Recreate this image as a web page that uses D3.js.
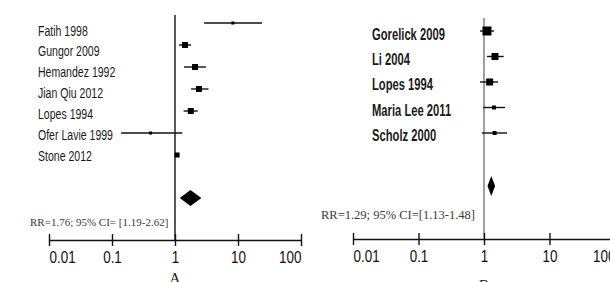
<!DOCTYPE html>
<html>
<head>
<meta charset="utf-8">
<script src="https://cdn.jsdelivr.net/npm/d3@7"></script>
<style>
  body { margin: 0; background: #fff; }
  svg { display: block; }
  .study { font-family: "Liberation Sans", Arial, sans-serif; fill: #1a1a1a; }
  .axis text { font-family: "Liberation Sans", Arial, sans-serif; font-size: 16px; fill: #111; }
  .summary { font-family: "Liberation Serif", "Times New Roman", serif; fill: #3a3a3a; }
  .panel-label { font-family: "Liberation Serif", "Times New Roman", serif; font-size: 15px; fill: #222; }
</style>
</head>
<body>
<svg id="chart" width="610" height="282"></svg>
<script>
// panel A studies
const studiesA = ["Fatih 1998", "Gungor 2009", "Hemandez 1992", "Jian Qiu 2012", "Lopes 1994", "Ofer Lavie 1999", "Stone 2012"];
const rrA = [8.3, 1.44, 2.08, 2.4, 1.78, 0.41, 1.08];
const lowA = [2.9, 1.16, 1.39, 1.8, 1.37, 0.14, 1.04];
const highA = [24, 1.8, 3.1, 3.4, 2.3, 1.3, 1.12];
const weightA = [3, 6, 6, 6, 6, 3, 5];
const pooledA = { rr: 1.76, low: 1.19, high: 2.62, text: "RR=1.76; 95% CI= [1.19-2.62]" };

// panel B studies
const studiesB = ["Gorelick 2009", "Li 2004", "Lopes 1994", "Maria Lee 2011", "Scholz 2000"];
const rrB = [1.11, 1.47, 1.22, 1.42, 1.45];
const lowB = [0.87, 1.11, 0.87, 0.97, 0.93];
const highB = [1.42, 2.0, 1.64, 2.09, 2.25];
const weightB = [9, 7, 7, 4, 4];
const pooledB = { rr: 1.29, low: 1.13, high: 1.48, text: "RR=1.29; 95% CI=[1.13-1.48]" };

const tickValues = [0.01, 0.1, 1, 10, 100];
const tickLabels = ["0.01", "0.1", "1", "10", "100"];

const svg = d3.select("#chart");

// no condensed font installed, so the sans text is squeezed horizontally
function drawPanel(cfg) {
  const g = svg.append("g");
  const n = cfg.studies.length;

  const x = d3.scaleLog().domain([0.01, 100]).range(cfg.xRange);
  const yMark = d3.scalePoint().domain(d3.range(n)).range(cfg.markRange);
  const yText = d3.scalePoint().domain(d3.range(n)).range(cfg.textRange);

  // line of no effect
  g.append("line")
    .attr("x1", x(1)).attr("x2", x(1))
    .attr("y1", cfg.refTop).attr("y2", cfg.axisY)
    .attr("stroke", cfg.refColor).attr("stroke-width", cfg.refWidth);

  // study labels
  g.selectAll(".study")
    .data(cfg.studies)
    .join("text")
    .attr("class", "study")
    .attr("transform", (d, i) => "translate(" + cfg.labelX + "," + yText(i) + ") scale(" + cfg.labelSqueeze + ",1)")
    .attr("dy", "0.36em")
    .style("font-size", cfg.labelSize + "px")
    .style("font-weight", cfg.labelWeight)
    .text(d => d);

  // confidence intervals
  g.selectAll(".ci")
    .data(d3.range(n))
    .join("line")
    .attr("class", "ci")
    .attr("x1", i => x(cfg.low[i]))
    .attr("x2", i => x(cfg.high[i]))
    .attr("y1", i => yMark(i))
    .attr("y2", i => yMark(i))
    .attr("stroke", "#111")
    .attr("stroke-width", 1.4);

  // point estimates
  g.selectAll(".pt")
    .data(d3.range(n))
    .join("rect")
    .attr("class", "pt")
    .attr("x", i => x(cfg.rr[i]) - cfg.weight[i] / 2)
    .attr("y", i => yMark(i) - cfg.weight[i] / 2)
    .attr("width", i => cfg.weight[i])
    .attr("height", i => cfg.weight[i])
    .attr("fill", "#000");

  // pooled diamond
  const p = cfg.pooled;
  g.append("path")
    .attr("d", d3.line()([
      [x(p.low), cfg.diamondY],
      [x(p.rr), cfg.diamondY - cfg.diamondH],
      [x(p.high), cfg.diamondY],
      [x(p.rr), cfg.diamondY + cfg.diamondH]
    ]) + "Z")
    .attr("fill", "#000");

  g.append("text")
    .attr("class", "summary")
    .attr("x", cfg.summaryX)
    .attr("y", cfg.summaryY)
    .style("font-size", cfg.summarySize + "px")
    .text(p.text);

  // axis, ticks run both sides of the line
  const axis = g.append("g")
    .attr("class", "axis")
    .attr("transform", "translate(0," + cfg.axisY + ")")
    .call(d3.axisBottom(x)
      .tickValues(tickValues)
      .tickFormat((d, i) => tickLabels[i])
      .tickSizeOuter(0));
  axis.select(".domain").attr("stroke", "#111").attr("stroke-width", 1.4);
  axis.selectAll(".tick line").attr("y1", -6).attr("y2", 6).attr("stroke", "#111").attr("stroke-width", 1.4);
  axis.selectAll(".tick text")
    .attr("y", null).attr("dy", null)
    .attr("transform", "translate(0,23) scale(0.84,1)")
    .attr("text-anchor", (d, i) => i === 0 ? "start" : i === tickValues.length - 1 ? "end" : "middle");

  g.append("text")
    .attr("class", "panel-label")
    .attr("x", x(1))
    .attr("y", cfg.panelY)
    .attr("text-anchor", "middle")
    .text(cfg.panel);
}

drawPanel({
  studies: studiesA, rr: rrA, low: lowA, high: highA, weight: weightA, pooled: pooledA,
  xRange: [49, 301], markRange: [23, 155], textRange: [30, 155],
  labelX: 38, labelSize: 15.5, labelSqueeze: 0.68, labelWeight: 400,
  refTop: 15, refColor: "#111", refWidth: 1.4,
  axisY: 240, diamondY: 198, diamondH: 8,
  summaryX: 30, summaryY: 226, summarySize: 11,
  panel: "A", panelY: 283
});

drawPanel({
  studies: studiesB, rr: rrB, low: lowB, high: highB, weight: weightB, pooled: pooledB,
  xRange: [353, 615], markRange: [31, 133], textRange: [34, 135],
  labelX: 372, labelSize: 16.5, labelSqueeze: 0.68, labelWeight: 700,
  refTop: 18, refColor: "#888", refWidth: 1.6,
  axisY: 239, diamondY: 186, diamondH: 10,
  summaryX: 321, summaryY: 219, summarySize: 12.5,
  panel: "B", panelY: 290
});
</script>
</body>
</html>
